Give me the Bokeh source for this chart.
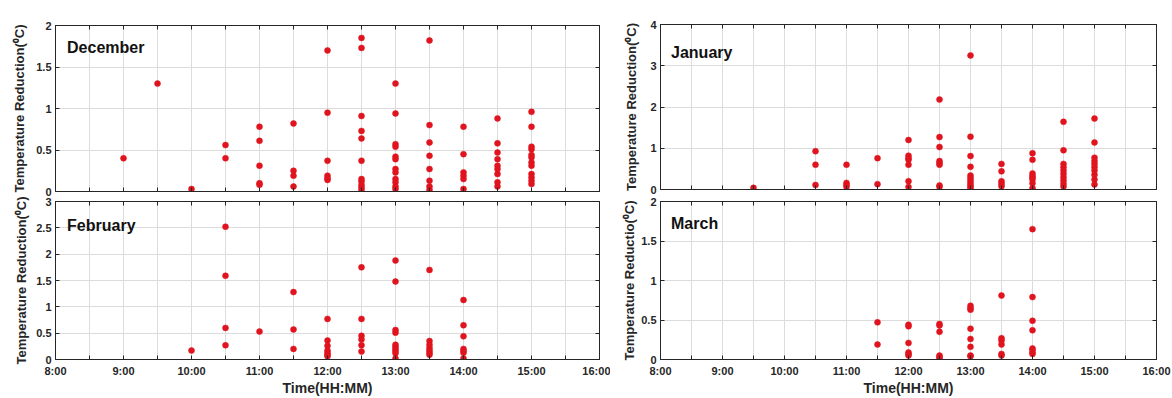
from bokeh.plotting import figure
from bokeh.layouts import row, column
from bokeh.models import Range1d, FixedTicker, CustomJSTickFormatter, LinearAxis, Label, ColumnDataSource
from bokeh.embed import file_html
from bokeh.resources import INLINE

# ---------------- data ----------------
dec_slots = ["9:00", "9:30", "10:00", "10:30", "11:00", "11:30", "12:00", "12:30", "13:00", "13:30", "14:00", "14:30", "15:00"]
dec_values = [
    [0.40],
    [1.30],
    [0.03],
    [0.56, 0.40],
    [0.78, 0.61, 0.31, 0.10, 0.08],
    [0.82, 0.25, 0.19, 0.06],
    [1.70, 0.95, 0.37, 0.19, 0.16, 0.14],
    [1.85, 1.73, 0.91, 0.73, 0.64, 0.37, 0.15, 0.12, 0.08, 0.05, 0.02],
    [1.30, 0.94, 0.57, 0.54, 0.42, 0.39, 0.27, 0.23, 0.15, 0.11, 0.06, 0.03],
    [1.82, 0.80, 0.59, 0.43, 0.27, 0.13, 0.06, 0.02],
    [0.78, 0.45, 0.23, 0.19, 0.15, 0.03],
    [0.88, 0.58, 0.47, 0.39, 0.31, 0.27, 0.21, 0.11, 0.06],
    [0.96, 0.78, 0.54, 0.51, 0.44, 0.41, 0.35, 0.31, 0.21, 0.17, 0.13, 0.09],
]

jan_slots = ["9:30", "10:30", "11:00", "11:30", "12:00", "12:30", "13:00", "13:30", "14:00", "14:30", "15:00"]
jan_values = [
    [0.04],
    [0.93, 0.60, 0.11],
    [0.60, 0.16, 0.11, 0.06],
    [0.76, 0.13],
    [1.20, 0.82, 0.76, 0.72, 0.60, 0.20, 0.06],
    [2.18, 1.27, 1.03, 0.69, 0.64, 0.60, 0.10, 0.06],
    [3.25, 1.28, 0.81, 0.55, 0.34, 0.28, 0.22, 0.16, 0.11, 0.06, 0.02],
    [0.62, 0.44, 0.20, 0.14, 0.08],
    [0.88, 0.72, 0.39, 0.33, 0.29, 0.24, 0.15, 0.03],
    [1.64, 0.95, 0.62, 0.54, 0.46, 0.38, 0.30, 0.22, 0.14, 0.07],
    [1.72, 1.14, 0.77, 0.69, 0.62, 0.54, 0.46, 0.36, 0.24, 0.12],
]

feb_slots = ["10:00", "10:30", "11:00", "11:30", "12:00", "12:30", "13:00", "13:30", "14:00"]
feb_values = [
    [0.17],
    [2.52, 1.59, 0.60, 0.27],
    [0.53],
    [1.28, 0.57, 0.20],
    [0.77, 0.36, 0.26, 0.17, 0.13, 0.09, 0.06],
    [1.75, 0.77, 0.45, 0.38, 0.27, 0.15],
    [1.88, 1.48, 0.56, 0.51, 0.28, 0.24, 0.20, 0.16, 0.12, 0.02],
    [1.70, 0.35, 0.28, 0.22, 0.17, 0.13, 0.09],
    [1.13, 0.65, 0.44, 0.20, 0.16, 0.13, 0.02],
]

mar_slots = ["11:30", "12:00", "12:30", "13:00", "13:30", "14:00"]
mar_values = [
    [0.47, 0.19],
    [0.44, 0.42, 0.21, 0.09, 0.07, 0.05],
    [0.45, 0.43, 0.35, 0.05, 0.03, 0.01],
    [0.68, 0.65, 0.63, 0.39, 0.26, 0.16, 0.05, 0.04],
    [0.81, 0.27, 0.24, 0.19, 0.07, 0.05],
    [1.65, 0.79, 0.49, 0.37, 0.14, 0.12, 0.09, 0.07],
]

x_start, x_end = "8:00", "16:00"
x_label = "Time(HH:MM)"
y_label = "Temperature Reduction(\u2070C)"
y_label_march = "Temperature Reductio(\u2070C)"

# ---------------- styling ----------------
RED = "#e0141e"
AX = "#262626"
GRID = "#dcdcdc"
FONT = "Liberation Sans"


def hours(s):
    h, m = s.split(":")
    return int(h) + int(m) / 60.0


def style_axis(ax, show_labels):
    ax.axis_line_color = AX
    ax.major_tick_line_color = AX
    ax.major_tick_in = 4
    ax.major_tick_out = 0
    ax.minor_tick_line_color = AX
    ax.minor_tick_in = 4
    ax.minor_tick_out = 0
    ax.major_label_text_font = FONT
    ax.major_label_text_font_style = "bold"
    ax.axis_label_text_font = FONT
    ax.axis_label_text_font_style = "bold"
    ax.axis_label_text_color = AX
    if show_labels:
        ax.major_label_text_font_size = "11px"
        ax.major_label_text_color = AX
    else:
        ax.major_label_text_font_size = "1px"
        ax.major_label_text_color = None
        ax.major_label_standoff = 0


def make_panel(name, slots, values, ymax, ystep, ylabel, width, height,
               mb, show_x, ylab_standoff, title_y):
    xs, ys = [], []
    for s, vals in zip(slots, values):
        for v in vals:
            xs.append(hours(s))
            ys.append(v)
    src = ColumnDataSource(dict(x=xs, y=ys))
    x0, x1 = hours(x_start), hours(x_end)
    p = figure(width=width, height=height, output_backend="svg", toolbar_location=None,
               x_range=Range1d(x0, x1), y_range=Range1d(0, ymax),
               min_border_left=mb[0], min_border_right=mb[1],
               min_border_top=mb[2], min_border_bottom=mb[3])
    p.background_fill_color = "white"
    p.border_fill_color = "white"
    p.outline_line_color = AX
    p.outline_line_width = 1

    nx = int(x1 - x0)
    xt = FixedTicker(ticks=[x0 + i for i in range(nx + 1)],
                     minor_ticks=[x0 + i + 0.5 for i in range(nx)])
    nys = int(round(ymax / ystep))
    yt = FixedTicker(ticks=[round(ystep * i, 3) for i in range(nys + 1)], minor_ticks=[])
    xfmt = CustomJSTickFormatter(code="return Math.round(tick) + ':00';")
    yfmt = CustomJSTickFormatter(code="return String(Math.round(tick*10)/10);")

    p.xaxis.ticker = xt
    p.xaxis.formatter = xfmt
    p.yaxis.ticker = yt
    p.yaxis.formatter = yfmt
    style_axis(p.xaxis[0], show_x)
    style_axis(p.yaxis[0], True)
    p.yaxis.major_label_standoff = 4
    p.yaxis.axis_label = ylabel
    p.yaxis.axis_label_text_font_size = "13px"
    p.yaxis.axis_label_standoff = ylab_standoff
    if show_x:
        p.xaxis.axis_label = x_label
        p.xaxis.axis_label_text_font_size = "14px"
        p.xaxis.major_label_standoff = 5
        p.xaxis.axis_label_standoff = 0

    top = LinearAxis(ticker=xt, formatter=xfmt)
    right = LinearAxis(ticker=yt, formatter=yfmt)
    style_axis(top, False)
    style_axis(right, False)
    p.add_layout(top, "above")
    p.add_layout(right, "right")

    p.xgrid.ticker = xt
    p.ygrid.ticker = yt
    p.grid.grid_line_color = GRID
    p.grid.grid_line_width = 1
    p.xgrid.minor_grid_line_color = GRID
    p.xgrid.minor_grid_line_width = 1

    p.scatter("x", "y", source=src, size=6, marker="circle",
              fill_color=RED, line_color=RED, line_width=0.5)

    p.add_layout(Label(x=x0 + 0.17, y=title_y, text=name, text_font=FONT,
                       text_font_style="bold", text_font_size="16px",
                       text_color="#111111", text_baseline="alphabetic"))
    return p


dec = make_panel("December", dec_slots, dec_values, 2, 0.5, y_label, 610, 196,
                 (55, 11, 25, 5), False, 6, 1.735)
jan = make_panel("January", jan_slots, jan_values, 4, 1, y_label, 562, 196,
                 (49, 15, 24, 7), False, 8, 3.32)
feb = make_panel("February", feb_slots, feb_values, 3, 0.5, y_label, 610, 202,
                 (50, 11, 5, 36), True, 4, 2.54)
mar = make_panel("March", mar_slots, mar_values, 2, 0.5, y_label_march, 562, 202,
                 (50, 16, 5, 36), True, 1, 1.72)

layout = row(column(dec, feb), column(jan, mar))
open("out.html", "w").write(file_html(layout, INLINE))
